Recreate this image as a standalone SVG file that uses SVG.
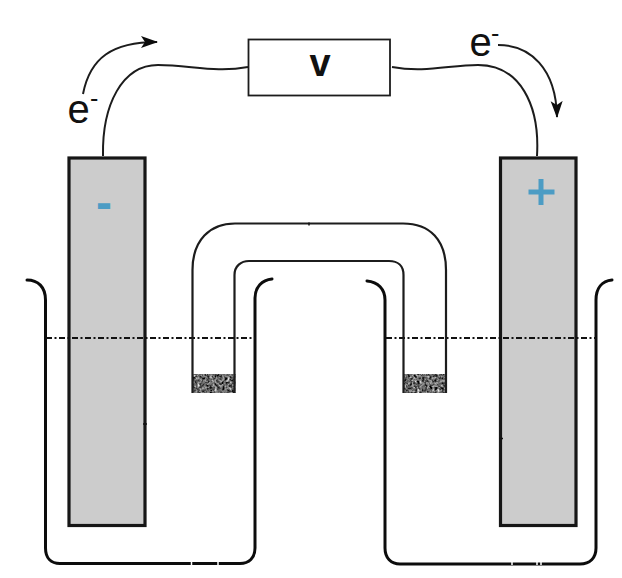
<svg xmlns="http://www.w3.org/2000/svg" width="622" height="578" viewBox="0 0 622 578">
<style>
text{font-family:"Liberation Sans",Arial,sans-serif;fill:#111}
.e{font-size:40px}
.sup{font-size:25px}
.wire{fill:none;stroke:#1c1c1c;stroke-width:2}
.arrow{fill:none;stroke:#1c1c1c;stroke-width:2;marker-end:url(#head)}
.electrode{fill:#cccccc;stroke:#161616;stroke-width:3.200}
.beaker{fill:none;stroke:#0c0c0c;stroke-width:3;stroke-linecap:round}
.bridge{fill:none;stroke:#1c1c1c;stroke-width:2.200}
.level{fill:none;stroke:#111;stroke-width:2;stroke-dasharray:6 2.500 2 2.500}
.sign{font-weight:bold;fill:#4c9cc4}
.frit{fill:#777;filter:url(#grain)}
.tick{fill:none;stroke:#111;stroke-width:1.500}
.nick{fill:none;stroke:#fff;stroke-width:1.500}
</style>
<defs>
<marker id="head" viewBox="0 0 18 14" refX="16" refY="7" markerWidth="18" markerHeight="14" markerUnits="userSpaceOnUse" orient="auto">
<path d="M0,1 L17,7 L0,13 L4,7 Z" fill="#0c0c0c"/>
</marker>
<filter id="grain" x="0" y="0" width="100%" height="100%" color-interpolation-filters="sRGB">
<feTurbulence type="fractalNoise" baseFrequency="0.4" numOctaves="2" seed="4"/>
<feColorMatrix type="matrix" values="1 1 0 0 -0.600 1 1 0 0 -0.600 1 1 0 0 -0.600 0 0 0 0 1"/>
<feComposite in2="SourceAlpha" operator="in"/>
</filter>
</defs>
<g id="connectors">
<path class="wire" d="M103,156 C102,105 122,65 158,65 C190,65 215,73 248,67"/>
<path class="wire" d="M392,67 C425,73 450,65 478,65 C520,65 540,105 537,156"/>
<path class="arrow" d="M83,94 C90,58 112,42 157,42"/>
<path class="arrow" d="M498,45 C530,45 556,68 557,117"/>
</g>
<g id="voltmeter">
<rect x="248.500" y="39.500" width="141.500" height="56" fill="#fff" stroke="#1c1c1c" stroke-width="1.800"/>
<text x="320" y="76" font-size="38" font-weight="bold" text-anchor="middle">v</text>
</g>
<g id="negative-electrode">
<rect class="electrode" x="69" y="158" width="76" height="367.500"/>
<text class="sign" x="104" y="219" font-size="48" text-anchor="middle">-</text>
</g>
<g id="positive-electrode">
<rect class="electrode" x="500.500" y="158" width="75.500" height="367.500"/>
<path d="M541,179 V205 M528.500,192 H554.500" fill="none" stroke="#4c9cc4" stroke-width="5"/>
</g>
<g id="electron-left"><text class="e" x="67.500" y="123">e</text><text class="sup" x="90" y="107">-</text></g>
<g id="electron-right"><text class="e" x="469.500" y="56">e</text><text class="sup" x="491" y="42">-</text></g>
<g id="left-beaker">
<path class="beaker" d="M27,280 C38,280 45.500,287 45.500,300 V548 C45.500,558 51,563.500 60,563.500 H240 C249,563.500 255,558 255,548 V298 C255,287 262,280 272,279"/>
<path class="level" d="M46,338 H255"/>
<path class="nick" d="M191.500,562 V565 M218,562 V565"/>
</g>
<g id="right-beaker">
<path class="beaker" d="M367,281 C378,282 385,289 385,300 V548 C385,558 391,564 400,564 H580 C590,564 596,558 596,548 V300 C596,288 602,281 612,280"/>
<path class="level" d="M386,338 H596"/>
<path class="nick" d="M512,562 V565 M537,562 V565 M541,562 V565"/>
</g>
<g id="salt-bridge">
<rect class="frit" x="192" y="374" width="43.500" height="19"/>
<rect class="frit" x="403" y="374" width="44" height="19"/>
<path class="bridge" d="M192.500,393 V270 C192.500,240 210,223.500 235,223.500 H403 C430,223.500 446,240 446,270 V393"/>
<path class="bridge" d="M234.500,393 V275 C234.500,266 241,261 249,261 H389 C398,261 403.500,266 403.500,275 V393"/>
<path class="tick" d="M309,222.500 V225.500"/>
</g>
<path class="tick" d="M143,424 H147"/>
<path class="tick" d="M499,438.500 H503"/>
</svg>
